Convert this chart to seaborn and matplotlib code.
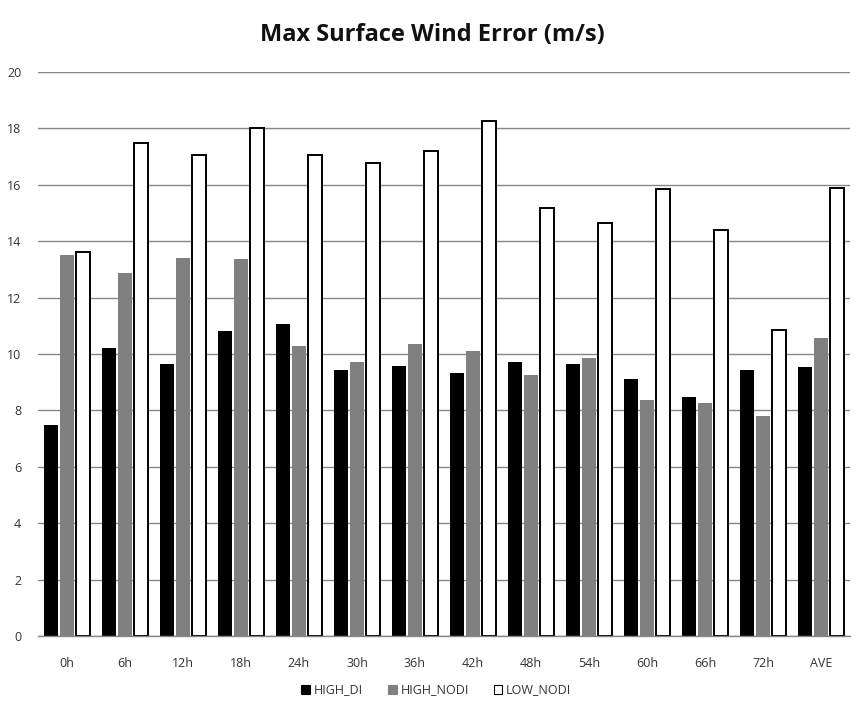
import numpy as np
import pandas as pd
import matplotlib
matplotlib.use("Agg")
import matplotlib.pyplot as plt
import seaborn as sns
from matplotlib.patches import Patch

categories = ["0h", "6h", "12h", "18h", "24h", "30h", "36h", "42h", "48h", "54h", "60h", "66h", "72h", "AVE"]
high_di = [7.47, 10.23, 9.66, 10.83, 11.05, 9.45, 9.59, 9.34, 9.70, 9.64, 9.12, 8.49, 9.45, 9.55]
high_nodi = [13.50, 12.86, 13.39, 13.36, 10.30, 9.73, 10.37, 10.09, 9.24, 9.85, 8.37, 8.28, 7.79, 10.55]
low_nodi = [13.60, 17.47, 17.04, 18.00, 17.04, 16.76, 17.19, 18.25, 15.16, 14.63, 15.84, 14.38, 10.86, 15.88]
series = ["HIGH_DI", "HIGH_NODI", "LOW_NODI"]
colors = {"HIGH_DI": "#000000", "HIGH_NODI": "#808080", "LOW_NODI": "#ffffff"}

df = pd.DataFrame({
    "cat": categories * 3,
    "series": [series[0]] * len(categories) + [series[1]] * len(categories) + [series[2]] * len(categories),
    "value": high_di + high_nodi + low_nodi,
})

sns.set_theme(style="white")
plt.rcParams['font.family'] = ['Open Sans', 'DejaVu Sans']

fig = plt.figure(figsize=(8.64, 7.13), dpi=100)
ax = fig.add_axes([38 / 864, 1 - 636 / 713, 812 / 864, 564 / 713])

sns.barplot(data=df, x="cat", y="value", hue="series", order=categories, hue_order=series,
            palette=colors, width=0.82, gap=0.16, ax=ax, legend=False, saturation=1)

for patch in ax.patches:
    fc = patch.get_facecolor()
    if fc[0] > 0.9:
        patch.set_edgecolor("black")
        patch.set_linewidth(1.4)
    else:
        patch.set_edgecolor("none")

ax.set_xlim(-0.5, len(categories) - 0.5)
ax.set_ylim(0, 20)
ax.set_yticks(np.arange(0, 21, 2))
ax.yaxis.grid(True, color="#868686", linewidth=1)
ax.set_axisbelow(True)
for s in ["top", "right", "left"]:
    ax.spines[s].set_visible(False)
ax.spines["bottom"].set_color("#868686")
ax.spines["bottom"].set_linewidth(1)
ax.tick_params(axis="y", length=4, color="#868686", labelsize=9, labelcolor="#333333", pad=8)
ax.tick_params(axis="x", length=0, labelsize=9, labelcolor="#333333", pad=15)
ax.set_xlabel("")
ax.set_ylabel("")

fig.text(0.5, 1 - 35 / 713, "Max Surface Wind Error (m/s)", ha="center", va="center",
         fontsize=17, fontweight="bold", color="#111111")

handles = [Patch(facecolor=colors[s], edgecolor="black" if s == "LOW_NODI" else colors[s], linewidth=0.8) for s in series]
fig.legend(handles, series, loc="center", bbox_to_anchor=(0.505, 1 - 690 / 713), ncol=3, frameon=False,
           fontsize=9, handlelength=0.7, handleheight=0.7, handletextpad=0.3, columnspacing=2.0,
           labelcolor="#333333")

fig.savefig("out.png", dpi=100)
